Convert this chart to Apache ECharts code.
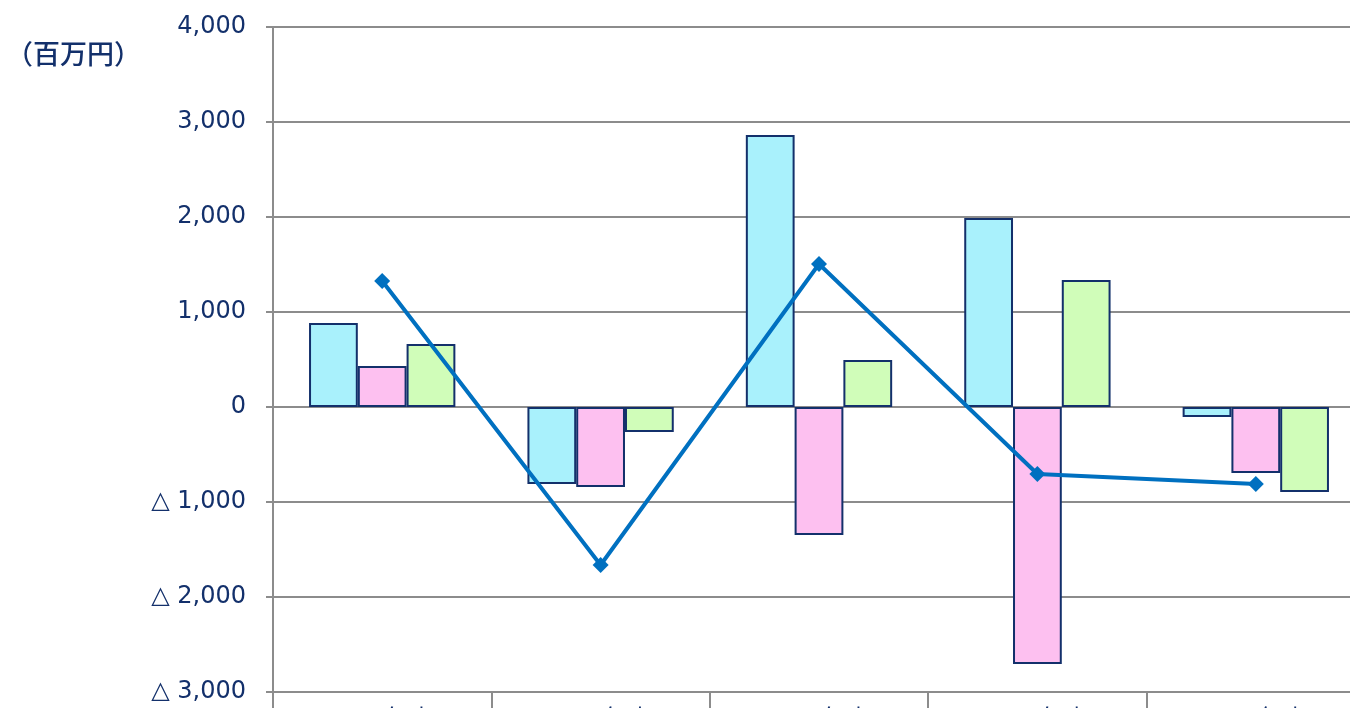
<!DOCTYPE html>
<html>
<head>
<meta charset="utf-8">
<script src="https://cdn.jsdelivr.net/npm/echarts@6/dist/echarts.min.js"></script>
<style>
html, body { margin: 0; padding: 0; background: #fff; }
#chart { width: 1350px; height: 708px; }
</style>
</head>
<body>
<div id="chart"></div>
<script>
// 年度ごとの数値（百万円）
var categories = ['2015年度', '2016年度', '2017年度', '2018年度', '2019年度'];
var seriesA = [884, -810, 2863, 1989, -105];
var seriesB = [432, -842, -1347, -2705, -695];
var seriesC = [663, -263, 495, 1337, -895];
var lineTotal = [1326, -1663, 1505, -705, -810];

var yMin = -3000, yMax = 4000, yStep = 1000;

var navy = '#13306b';
var gridGray = '#8c8c8c';

function fmt(v) {
	var s = Math.abs(v).toLocaleString('en-US');
	return v < 0 ? '△ ' + s : s;
}

var chart = echarts.init(document.getElementById('chart'));

function barSeries(data, color) {
	return {
		type: 'bar',
		data: data,
		barGap: '0%',
		barCategoryGap: '33%',
		itemStyle: { color: color, borderColor: navy, borderWidth: 2 },
		z: 2
	};
}

chart.setOption({
	animation: false,
	textStyle: { fontFamily: '"DejaVu Sans", "Noto Sans CJK JP", sans-serif' },
	grid: { left: 273, right: -15, top: 27, bottom: 16, containLabel: false, outerBoundsMode: 'none' },
	graphic: [{
		type: 'text',
		left: 6,
		top: 40,
		style: {
			text: '（百万円）',
			fill: navy,
			font: '500 27px "Noto Sans CJK JP", sans-serif'
		}
	}],
	xAxis: {
		type: 'category',
		data: categories,
		axisLine: { onZero: false, lineStyle: { color: gridGray, width: 2 } },
		axisTick: { show: true, length: 20, lineStyle: { color: gridGray, width: 2 } },
		axisLabel: { color: navy, fontSize: 24, margin: 14, fontFamily: '"Noto Sans CJK JP", sans-serif' },
		splitLine: { show: false }
	},
	yAxis: {
		type: 'value',
		min: yMin,
		max: yMax,
		interval: yStep,
		axisLine: { show: true, lineStyle: { color: gridGray, width: 2 } },
		axisTick: { show: true, length: 7, lineStyle: { color: gridGray, width: 2 } },
		axisLabel: { color: navy, fontSize: 24, margin: 27, formatter: fmt },
		splitLine: { lineStyle: { color: gridGray, width: 2 } }
	},
	series: [
		barSeries(seriesA, '#a9f1fc'),
		barSeries(seriesB, '#fdc0f0'),
		barSeries(seriesC, '#d0fdb9'),
		{
			type: 'line',
			data: lineTotal,
			symbol: 'diamond',
			symbolSize: 16,
			lineStyle: { color: '#0070c0', width: 4 },
			itemStyle: { color: '#0070c0' },
			z: 5
		}
	]
});
</script>
</body>
</html>
